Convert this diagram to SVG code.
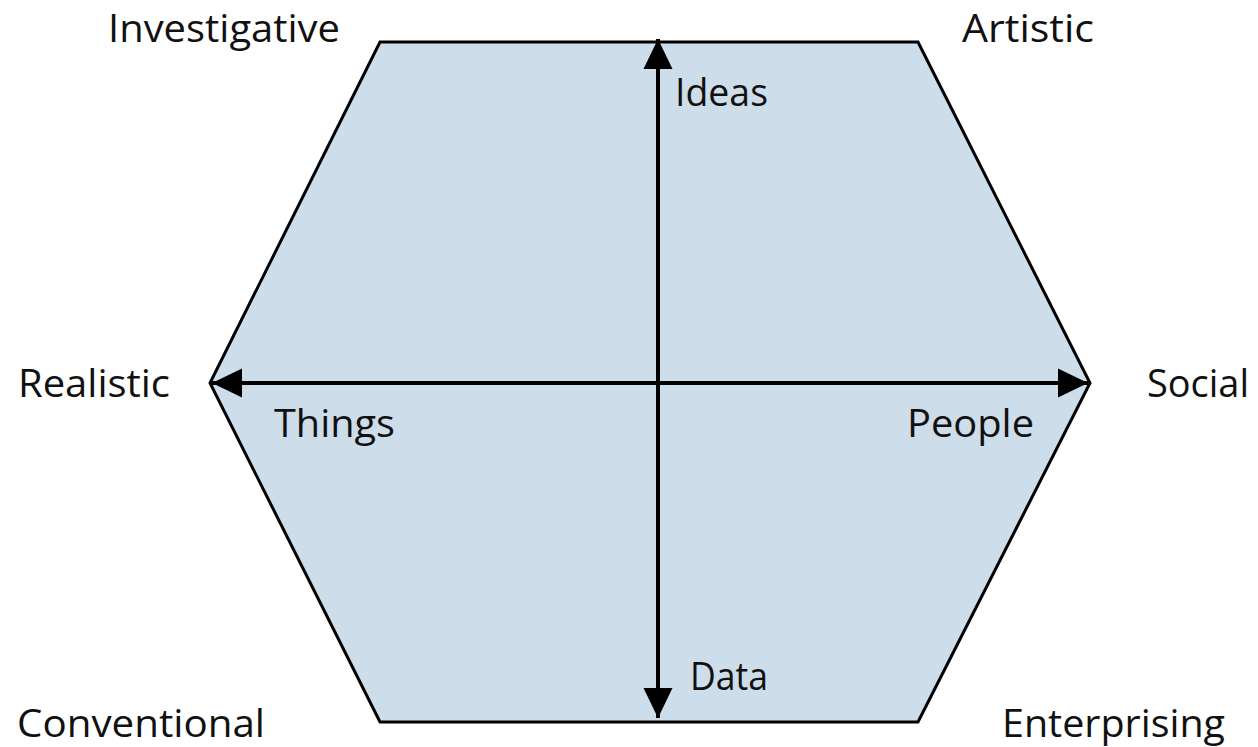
<svg xmlns="http://www.w3.org/2000/svg" width="1258" height="747" viewBox="0 0 1258 747">
<style>
.lbl{font-family:"Open Sans","Liberation Sans",sans-serif;font-size:38px;fill:#111;}
.hex{fill:#cddde9;stroke:#000;stroke-width:3;stroke-linejoin:miter;}
.ax{stroke:#000;stroke-width:4;fill:none;}
</style>
<defs>
<marker id="ah" viewBox="0 0 30 30" refX="30" refY="15" markerWidth="30" markerHeight="30" markerUnits="userSpaceOnUse" orient="auto-start-reverse">
<path d="M0,0.5 L30,15 L0,29.5 z" fill="#000"/>
</marker>
</defs>
<g id="hexagon">
<polygon class="hex" points="380,42 918,42 1090,383 918,722 380,722 210,383"/>
</g>
<g id="connectors">
<line id="ideas-data" class="ax" x1="658" y1="718" x2="658" y2="39" marker-start="url(#ah)" marker-end="url(#ah)"/>
<line id="things-people" class="ax" x1="212" y1="383" x2="1088" y2="383" marker-start="url(#ah)" marker-end="url(#ah)"/>
</g>
<g id="labels">
<text class="lbl" x="108" y="42" textLength="232" lengthAdjust="spacingAndGlyphs">Investigative</text>
<text class="lbl" x="962" y="42" textLength="132" lengthAdjust="spacingAndGlyphs">Artistic</text>
<text class="lbl" x="18" y="397" textLength="152" lengthAdjust="spacingAndGlyphs">Realistic</text>
<text class="lbl" x="1147" y="397" textLength="102" lengthAdjust="spacingAndGlyphs">Social</text>
<text class="lbl" x="17" y="737" textLength="248" lengthAdjust="spacingAndGlyphs">Conventional</text>
<text class="lbl" x="1002" y="737" textLength="223" lengthAdjust="spacingAndGlyphs">Enterprising</text>
<text class="lbl" x="675" y="106" textLength="93" lengthAdjust="spacingAndGlyphs">Ideas</text>
<text class="lbl" x="690" y="690" textLength="78" lengthAdjust="spacingAndGlyphs">Data</text>
<text class="lbl" x="274" y="437" textLength="121" lengthAdjust="spacingAndGlyphs">Things</text>
<text class="lbl" x="907" y="437" textLength="127" lengthAdjust="spacingAndGlyphs">People</text>
</g>
</svg>
